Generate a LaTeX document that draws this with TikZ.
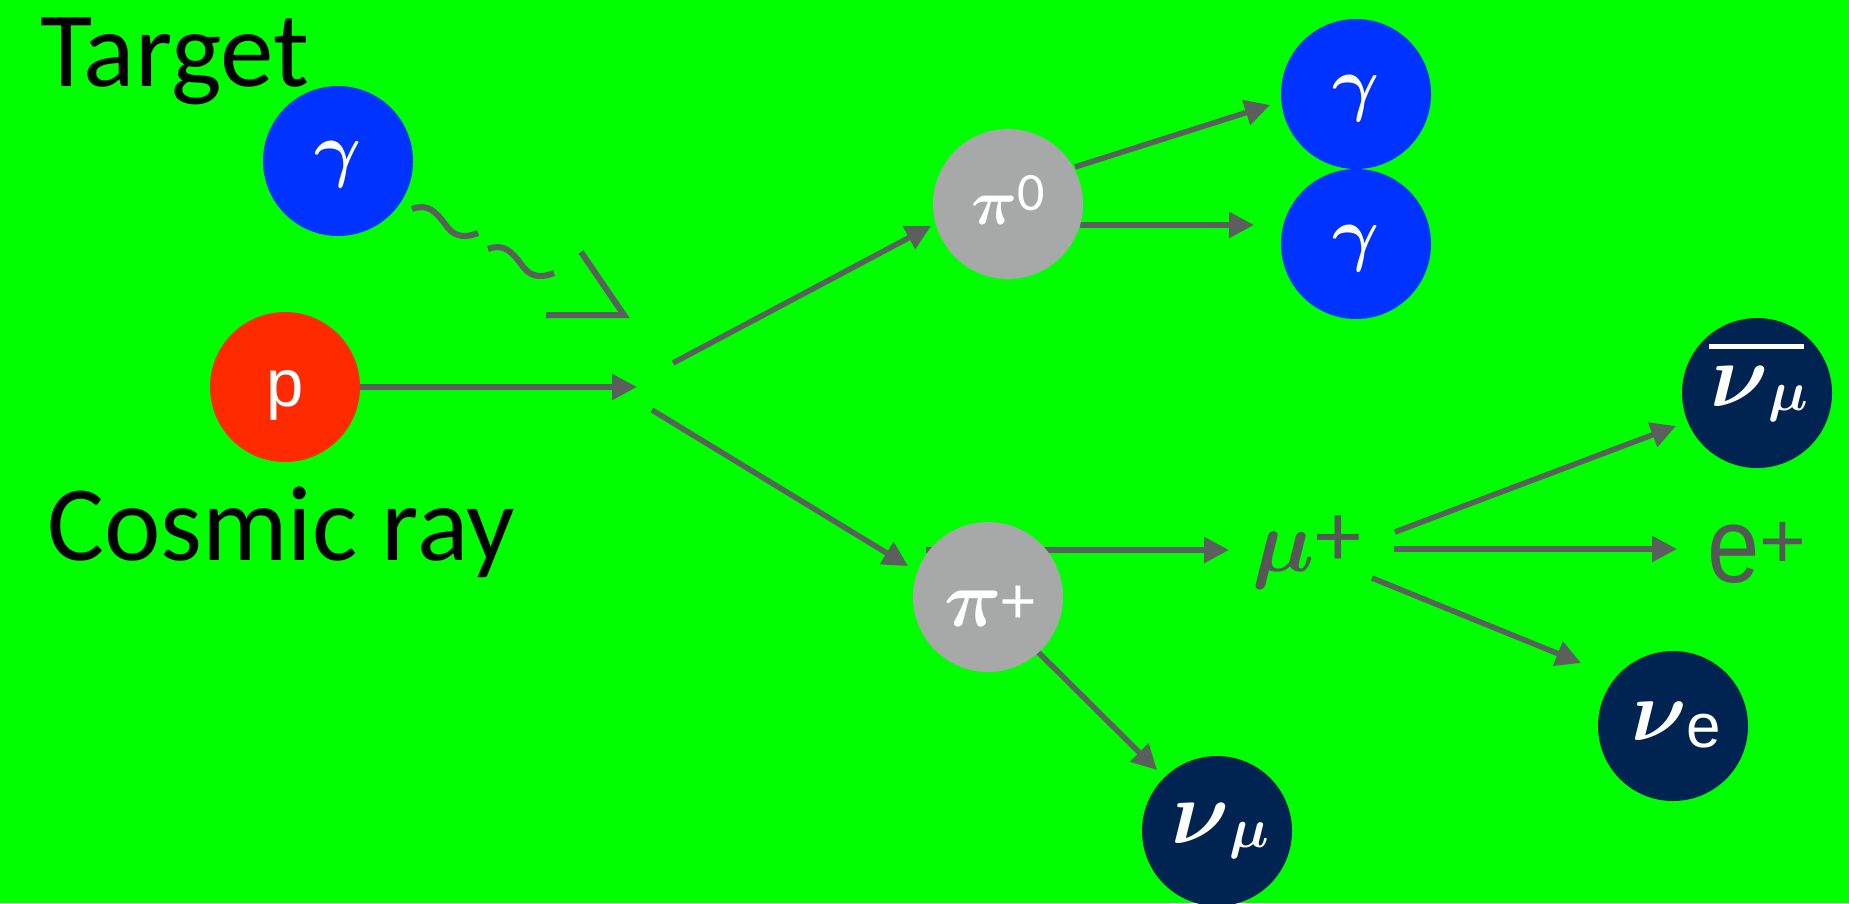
\documentclass[tikz,border=0pt]{standalone}
\usepackage{fontspec}
\setmainfont{Carlito}
\newfontfamily\arialf{Liberation Sans}
\DeclareFontFamily{OML}{cmm}{\skewchar\font127 }
\DeclareFontShape{OML}{cmm}{m}{it}{<->cmmi10}{}
\DeclareFontShape{OML}{cmm}{b}{it}{<->cmmib10}{}
\usetikzlibrary{arrows.meta,calc}
\definecolor{bggreen}{HTML}{00FF00}
\definecolor{gblue}{HTML}{0033FF}
\definecolor{pred}{HTML}{FF2A00}
\definecolor{pigray}{HTML}{A6A9A7}
\definecolor{nunavy}{HTML}{002452}
\definecolor{arrgray}{HTML}{5B5F5D}
\definecolor{txtgray}{HTML}{575757}
\newcommand\fsz[1]{\fontsize{#1}{#1}\selectfont}
\newcommand\supx[3]{\raisebox{#1}{\fsz{#2}\upshape #3}}
\newcommand\grk[2]{{\fsz{#1}\boldmath$#2$}}
\begin{document}
\begin{tikzpicture}[x=1pt,y=-1pt,
  arr/.style={draw=arrgray,line width=5.5pt,-{Triangle[length=25pt,width=25pt]}},
  wave/.style={draw=arrgray,line width=6pt},
  ball/.style={circle,minimum size=150pt,inner sep=0pt,draw=none},
  lbl/.style={inner sep=0pt,text=white},
  bigtext/.style={inner sep=0pt,anchor=base west,font=\fsz{107}}]
\fill[bggreen] (0,0) rectangle (1849,903);
\useasboundingbox (0,0) rectangle (1849,903);

% connector end points
\coordinate (pS) at (360,387);   \coordinate (pT) at (637,387);
\coordinate (aS) at (673,363);   \coordinate (aT) at (931,226);
\coordinate (bS) at (652,410);   \coordinate (bT) at (908,566);
\coordinate (cS) at (1075,167);  \coordinate (cT) at (1270,105);
\coordinate (dS) at (1080,225);  \coordinate (dT) at (1254,225);
\coordinate (eS) at (926,550);   \coordinate (eT) at (1229,550);
\coordinate (fS) at (1038,652);  \coordinate (fT) at (1157,770);
\coordinate (gS) at (1395,532);  \coordinate (gT) at (1676,426);
\coordinate (hS) at (1394,549);  \coordinate (hT) at (1677,549);
\coordinate (iS) at (1372,578);  \coordinate (iT) at (1581,663);

\draw[arr] (pS) -- (pT);
\draw[arr] (aS) -- (aT);
\draw[arr] (bS) -- (bT);
\draw[arr] (cS) -- (cT);
\draw[arr] (dS) -- (dT);
\draw[arr] (eS) -- (eT);
\draw[arr] (fS) -- (fT);
\draw[arr] (gS) -- (gT);
\draw[arr] (hS) -- (hT);
\draw[arr] (iS) -- (iT);

% photon
\draw[wave] (412,209) .. controls (428,203) and (436,212) .. (445,224)
            .. controls (452,234) and (460,240) .. (478,233);
\draw[wave] (488,249) .. controls (504,243) and (512,252) .. (521,264)
            .. controls (528,274) and (536,280) .. (554,273);
\draw[wave,line join=miter] (581,252) -- (624,315) -- (546,315);

% particles
\node[ball,fill=gblue] (gtar) at (338,161) {};
\node[ball,fill=pred] (p) at (285,387) {};
\node[ball,fill=pigray] (pi0) at (1008,204) {};
\node[ball,fill=gblue] (g1) at (1356,94) {};
\node[ball,fill=gblue] (g2) at (1356,244) {};
\node[ball,fill=pigray] (pip) at (988,597) {};
\node[ball,fill=nunavy] (nmu) at (1217,831) {};
\node[ball,fill=nunavy] (nbar) at (1757,393) {};
\node[ball,fill=nunavy] (ne) at (1673,726) {};

% labels
\node[lbl] (gtarl) at (338,164) {\grk{72}{\gamma}};
\node[lbl] (g1l) at (1356,98) {\grk{72}{\gamma}};
\node[lbl] (g2l) at (1356,248) {\grk{72}{\gamma}};
\node[lbl,font=\arialf\fsz{67}] (pl) at (285,395) {p};
\node[lbl] (pi0l) at (1008,200) {\grk{64}{\pi}\supx{14pt}{54}{0}};
\node[lbl] (pipl) at (990,606) {\grk{80}{\pi}\supx{3pt}{68}{+}};
\node[lbl] (nmul) at (1220,831) {\grk{90}{\nu}\raisebox{-4pt}{\grk{56}{\mu}}};
\node[lbl] (nbarl) at (1759,394) {\grk{90}{\nu}\raisebox{-4pt}{\grk{56}{\mu}}};
\draw[white,line width=5pt] ($(nbar)+(-48,-47)$) -- ($(nbar)+(47,-47)$);
\node[lbl] (nel) at (1676,725) {\grk{86}{\nu}\raisebox{-7pt}{\arialf\fsz{62}e}};
\node[inner sep=0pt,text=txtgray] (mu) at (1307,552) {\grk{88}{\mu}\supx{5pt}{92}{+}};
\node[inner sep=0pt,text=txtgray,font=\arialf\fsz{107}] (ep) at (1757,553) {\scalebox{0.88}[1]{e}\supx{14pt}{80}{+}};

\node[bigtext] (target) at (40,86) {Target};
\node[bigtext] (cosmic) at (47,560) {Cosmic ray};
\end{tikzpicture}
\end{document}
